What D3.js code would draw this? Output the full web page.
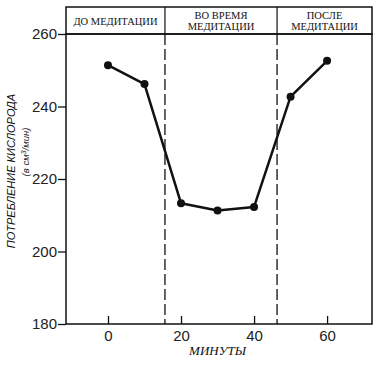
<!DOCTYPE html>
<html>
<head>
<meta charset="utf-8">
<script src="https://cdn.jsdelivr.net/npm/d3@7"></script>
<style>
  body { margin: 0; background: #fff; }
  svg { display: block; }
</style>
</head>
<body>
<div id="chart"></div>
<script>
// data
var minutes = [0, 10, 20, 30, 40, 50, 60];
var oxygen = [251.4, 246.2, 213.3, 211.3, 212.3, 242.7, 252.6];
var yTicks = [180, 200, 220, 240, 260];
var xTicks = [0, 20, 40, 60];
var phaseBreaks = [15.6, 46.3];
var phaseLabels = [["ДО МЕДИТАЦИИ"], ["ВО ВРЕМЯ", "МЕДИТАЦИИ"], ["ПОСЛЕ", "МЕДИТАЦИИ"]];

var svgWidth = 380;
var svgHeight = 365;

var margin = { top: 34, right: 8, bottom: 41, left: 66 };
var width = svgWidth - margin.left - margin.right;
var height = svgHeight - margin.top - margin.bottom;

var svg = d3.select("#chart")
  .append("svg")
  .attr("width", svgWidth)
  .attr("height", svgHeight);

var chartGroup = svg.append("g")
  .attr("transform", `translate(${margin.left}, ${margin.top})`);

var x = d3.scaleLinear().domain([-11.5, 72.3]).range([0, width]);
var y = d3.scaleLinear().domain([180, 260]).range([height, 0]);

// header box with phase names
var headerH = 27;
var header = chartGroup.append("g").attr("transform", `translate(0, ${-headerH})`);
header.append("rect")
  .attr("width", width).attr("height", headerH)
  .attr("fill", "none").attr("stroke", "#111").attr("stroke-width", 1.5);

phaseBreaks.forEach(function(b) {
  header.append("line")
    .attr("x1", x(b)).attr("x2", x(b))
    .attr("y1", 0).attr("y2", headerH)
    .attr("stroke", "#111").attr("stroke-width", 1.2);
});

var bounds = [x.domain()[0]].concat(phaseBreaks, [x.domain()[1]]);
phaseLabels.forEach(function(lines, i) {
  var cx = (x(bounds[i]) + x(bounds[i + 1])) / 2;
  var t = header.append("text")
    .attr("text-anchor", "middle")
    .attr("font-family", "Liberation Serif, serif")
    .attr("font-size", "10.5px")
    .attr("fill", "#111");
  if (lines.length === 1) {
    t.append("tspan").attr("x", cx).attr("y", 18).text(lines[0]);
  } else {
    t.append("tspan").attr("x", cx).attr("y", 12).text(lines[0]);
    t.append("tspan").attr("x", cx).attr("y", 23).text(lines[1]);
  }
});

// plot frame
chartGroup.append("rect")
  .attr("width", width).attr("height", height)
  .attr("fill", "none").attr("stroke", "#111").attr("stroke-width", 1.5);

// dashed phase dividers
chartGroup.selectAll(".divider")
  .data(phaseBreaks)
  .enter()
  .append("line")
  .attr("class", "divider")
  .attr("x1", d => x(d)).attr("x2", d => x(d))
  .attr("y1", 0).attr("y2", height)
  .attr("stroke", "#111")
  .attr("stroke-width", 1.3)
  .attr("stroke-dasharray", "11,4");

// axes
var leftAxis = d3.axisLeft(y).tickValues(yTicks).tickSize(8).tickPadding(1);
var bottomAxis = d3.axisBottom(x).tickValues(xTicks).tickSizeInner(-8).tickSizeOuter(0).tickPadding(6);

var yAxisG = chartGroup.append("g").call(leftAxis);
var xAxisG = chartGroup.append("g")
  .attr("transform", `translate(0, ${height})`)
  .call(bottomAxis);

[yAxisG, xAxisG].forEach(function(g) {
  g.select(".domain").remove();
  g.selectAll(".tick line").attr("stroke", "#111").attr("stroke-width", 1.3);
  g.selectAll(".tick text")
    .attr("font-family", "Liberation Sans, Arial, sans-serif")
    .attr("font-size", "15px")
    .attr("fill", "#222");
});

// line and points
var line = d3.line()
  .x((d, i) => x(minutes[i]))
  .y(d => y(d));

chartGroup.append("path")
  .datum(oxygen)
  .attr("d", line)
  .attr("fill", "none")
  .attr("stroke", "#111")
  .attr("stroke-width", 2.5)
  .attr("stroke-linejoin", "round");

chartGroup.selectAll("circle")
  .data(oxygen)
  .enter()
  .append("circle")
  .attr("cx", (d, i) => x(minutes[i]))
  .attr("cy", d => y(d))
  .attr("r", 4)
  .attr("fill", "#111");

// axis labels
chartGroup.append("text")
  .attr("transform", `translate(${x(30)}, ${height + 31})`)
  .attr("text-anchor", "middle")
  .attr("font-family", "Liberation Serif, serif")
  .attr("font-style", "italic")
  .attr("font-size", "13px")
  .attr("fill", "#111")
  .text("МИНУТЫ");

svg.append("text")
  .attr("transform", "translate(15, 171) rotate(-90)")
  .attr("text-anchor", "middle")
  .attr("font-family", "Liberation Sans, Arial, sans-serif")
  .attr("font-style", "italic")
  .attr("font-size", "11px")
  .attr("fill", "#111")
  .text("ПОТРЕБЛЕНИЕ КИСЛОРОДА");

var sub = svg.append("text")
  .attr("transform", "translate(29, 152) rotate(-90)")
  .attr("text-anchor", "middle")
  .attr("font-family", "Liberation Sans, Arial, sans-serif")
  .attr("font-style", "italic")
  .attr("font-size", "9.5px")
  .attr("fill", "#222");
sub.append("tspan").text("(в см");
sub.append("tspan").attr("font-size", "7px").attr("dy", -3).text("3");
sub.append("tspan").attr("dy", 3).text("/мин)");
</script>
</body>
</html>
